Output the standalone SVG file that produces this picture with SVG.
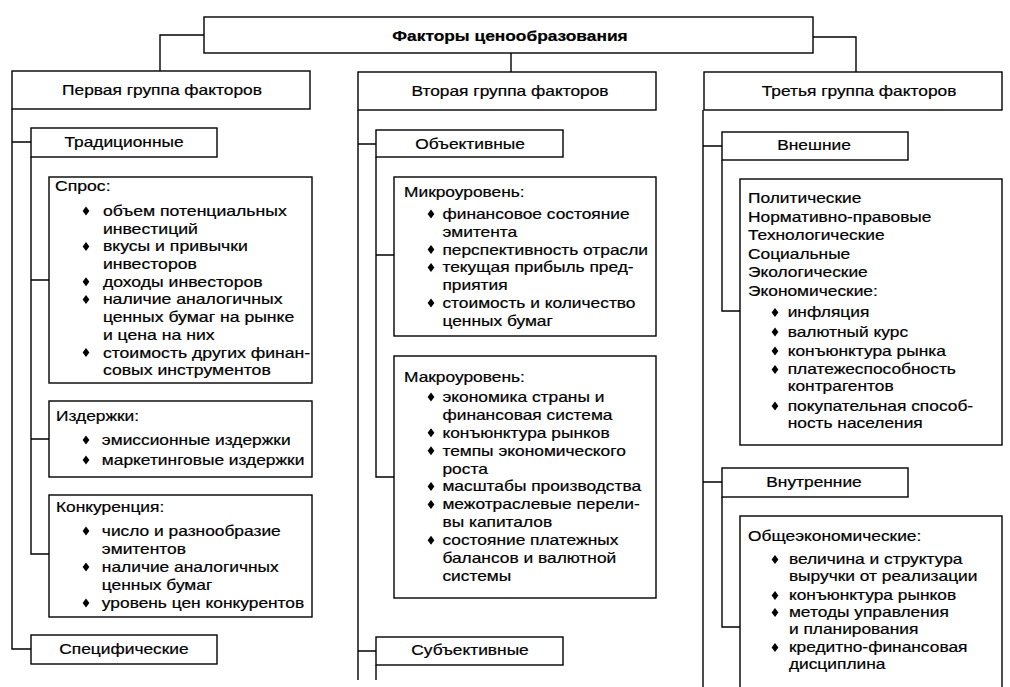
<svg xmlns="http://www.w3.org/2000/svg" width="1010" height="687" viewBox="0 0 1010 687">
<defs>
<style>
.box{fill:#fff;stroke:#000;stroke-width:1.4}
.ln{fill:none;stroke:#000;stroke-width:1.4}
text{font-family:"Liberation Sans",Arial,sans-serif;font-size:14px;fill:#000;stroke:#000;stroke-width:0.2}
.b{font-weight:bold}
.c{text-anchor:middle}
</style>
<path id="d" d="M0,-4.5 L3.4,0 L0,4.5 L-3.4,0 Z" fill="#000"/>
</defs>
<rect width="1010" height="687" fill="#fff"/>
<g id="connectors">
<path class="ln" d="M204,35 H160 V71"/>
<path class="ln" d="M813,37 H856 V72"/>
<path class="ln" d="M511,53 V72"/>
<path class="ln" d="M12,109 V649 H31 M12,142 H31"/>
<path class="ln" d="M31,157 V554 H49 M31,280 H49 M31,439 H49"/>
<path class="ln" d="M358,110 V680 M358,144 H376 M358,651 H376"/>
<path class="ln" d="M376,157 V477 H394 M376,255 H394 M376,665 V680"/>
<path class="ln" d="M703,110 V687 M703,146 H722 M703,482 H722"/>
<path class="ln" d="M722,160 V311 H740 M722,497 V627 H740"/>
</g>
<g id="root">
<rect class="box" x="204" y="17" width="609" height="36"/>
<text class="b c" transform="translate(510,41) scale(1.24,1)">Факторы ценообразования</text>
</g>
<g id="g1">
<rect class="box" x="12" y="71" width="298" height="38"/>
<text class="c" transform="translate(162,95) scale(1.24,1)">Первая группа факторов</text>
</g>
<g id="g2">
<rect class="box" x="358" y="72" width="298" height="38"/>
<text class="c" transform="translate(510,96) scale(1.24,1)">Вторая группа факторов</text>
</g>
<g id="g3">
<rect class="box" x="704" y="72" width="298" height="38"/>
<text class="c" transform="translate(859,96) scale(1.24,1)">Третья группа факторов</text>
</g>
<g id="trad">
<rect class="box" x="31" y="128" width="186" height="29"/>
<text class="c" transform="translate(124,147) scale(1.24,1)">Традиционные</text>
</g>
<g id="spros">
<rect class="box" x="49" y="177" width="263" height="206"/>
<g transform="translate(55,0) scale(1.26,1)">
<text x="0" y="191">Спрос:</text>
<text x="38" y="216">объем потенциальных</text>
<text x="38" y="233.7">инвестиций</text>
<text x="38" y="251.4">вкусы и привычки</text>
<text x="38" y="269.1">инвесторов</text>
<text x="38" y="286.8">доходы инвесторов</text>
<text x="38" y="304.5">наличие аналогичных</text>
<text x="38" y="322.2">ценных бумаг на рынке</text>
<text x="38" y="339.9">и цена на них</text>
<text x="38" y="357.6">стоимость других финан-</text>
<text x="38" y="375.3">совых инструментов</text>
</g>
<use href="#d" x="86" y="211"/><use href="#d" x="86" y="246.4"/><use href="#d" x="86" y="281.8"/><use href="#d" x="86" y="299.5"/><use href="#d" x="86" y="352.6"/>
</g>
<g id="izd">
<rect class="box" x="49" y="401" width="263" height="76"/>
<g transform="translate(56,0) scale(1.24,1)">
<text x="0" y="421">Издержки:</text>
<text x="37" y="445">эмиссионные издержки</text>
<text x="37" y="465">маркетинговые издержки</text>
</g>
<use href="#d" x="86" y="440"/><use href="#d" x="86" y="460"/>
</g>
<g id="konk">
<rect class="box" x="49" y="495" width="263" height="122"/>
<g transform="translate(56,0) scale(1.24,1)">
<text x="0" y="512">Конкуренция:</text>
<text x="37" y="536">число и разнообразие</text>
<text x="37" y="554">эмитентов</text>
<text x="37" y="572">наличие аналогичных</text>
<text x="37" y="590">ценных бумаг</text>
<text x="37" y="608">уровень цен конкурентов</text>
</g>
<use href="#d" x="86" y="531"/><use href="#d" x="86" y="567"/><use href="#d" x="86" y="603"/>
</g>
<g id="spec">
<rect class="box" x="31" y="635" width="186" height="29"/>
<text class="c" transform="translate(124,654) scale(1.24,1)">Специфические</text>
</g>
<g id="obj">
<rect class="box" x="376" y="130" width="187" height="27"/>
<text class="c" transform="translate(470,149) scale(1.24,1)">Объективные</text>
</g>
<g id="micro">
<rect class="box" x="394" y="177" width="262" height="159"/>
<g transform="translate(404,0) scale(1.24,1)">
<text x="0" y="197">Микроуровень:</text>
<text x="31" y="219">финансовое состояние</text>
<text x="31" y="236.8">эмитента</text>
<text x="31" y="254.6">перспективность отрасли</text>
<text x="31" y="272.4">текущая прибыль пред-</text>
<text x="31" y="290.2">приятия</text>
<text x="31" y="308">стоимость и количество</text>
<text x="31" y="325.8">ценных бумаг</text>
</g>
<use href="#d" x="431" y="214"/><use href="#d" x="431" y="249.6"/><use href="#d" x="431" y="267.4"/><use href="#d" x="431" y="303"/>
</g>
<g id="macro">
<rect class="box" x="394" y="356" width="262" height="242"/>
<g transform="translate(404,0) scale(1.24,1)">
<text x="0" y="382">Макроуровень:</text>
<text x="31" y="402">экономика страны и</text>
<text x="31" y="419.9">финансовая система</text>
<text x="31" y="437.8">конъюнктура рынков</text>
<text x="31" y="455.7">темпы экономического</text>
<text x="31" y="473.6">роста</text>
<text x="31" y="491.5">масштабы производства</text>
<text x="31" y="509.4">межотраслевые перели-</text>
<text x="31" y="527.3">вы капиталов</text>
<text x="31" y="545.2">состояние платежных</text>
<text x="31" y="563.1">балансов и валютной</text>
<text x="31" y="581">системы</text>
</g>
<use href="#d" x="431" y="397"/><use href="#d" x="431" y="432.8"/><use href="#d" x="431" y="450.7"/><use href="#d" x="431" y="486.5"/><use href="#d" x="431" y="504.4"/><use href="#d" x="431" y="540.2"/>
</g>
<g id="subj">
<rect class="box" x="376" y="637" width="187" height="28"/>
<text class="c" transform="translate(470,655) scale(1.24,1)">Субъективные</text>
</g>
<g id="vnesh">
<rect class="box" x="722" y="132" width="186" height="28"/>
<text class="c" transform="translate(814,150) scale(1.24,1)">Внешние</text>
</g>
<g id="ext">
<rect class="box" x="740" y="179" width="262" height="266"/>
<g transform="translate(748,0) scale(1.24,1)">
<text x="0" y="203.5">Политические</text>
<text x="0" y="222">Нормативно-правовые</text>
<text x="0" y="240.5">Технологические</text>
<text x="0" y="259">Социальные</text>
<text x="0" y="277.5">Экологические</text>
<text x="0" y="296">Экономические:</text>
<text x="32" y="317.5">инфляция</text>
<text x="32" y="337">валютный курс</text>
<text x="32" y="356">конъюнктура рынка</text>
<text x="32" y="374.5">платежеспособность</text>
<text x="32" y="391.5">контрагентов</text>
<text x="32" y="411">покупательная способ-</text>
<text x="32" y="428">ность населения</text>
</g>
<use href="#d" x="775" y="312.5"/><use href="#d" x="775" y="332"/><use href="#d" x="775" y="351"/><use href="#d" x="775" y="369.5"/><use href="#d" x="775" y="406"/>
</g>
<g id="vnutr">
<rect class="box" x="722" y="468" width="186" height="29"/>
<text class="c" transform="translate(814,487) scale(1.24,1)">Внутренние</text>
</g>
<g id="int">
<rect class="box" x="740" y="516" width="262" height="200"/>
<g transform="translate(748,0) scale(1.24,1)">
<text x="0" y="541.5">Общеэкономические:</text>
<text x="33" y="564.5">величина и структура</text>
<text x="33" y="581.5">выручки от реализации</text>
<text x="33" y="600.5">конъюнктура рынков</text>
<text x="33" y="617.5">методы управления</text>
<text x="33" y="634.5">и планирования</text>
<text x="33" y="652.5">кредитно-финансовая</text>
<text x="33" y="669.5">дисциплина</text>
</g>
<use href="#d" x="775" y="559.5"/><use href="#d" x="775" y="595.5"/><use href="#d" x="775" y="612.5"/><use href="#d" x="775" y="647.5"/>
</g>
</svg>
